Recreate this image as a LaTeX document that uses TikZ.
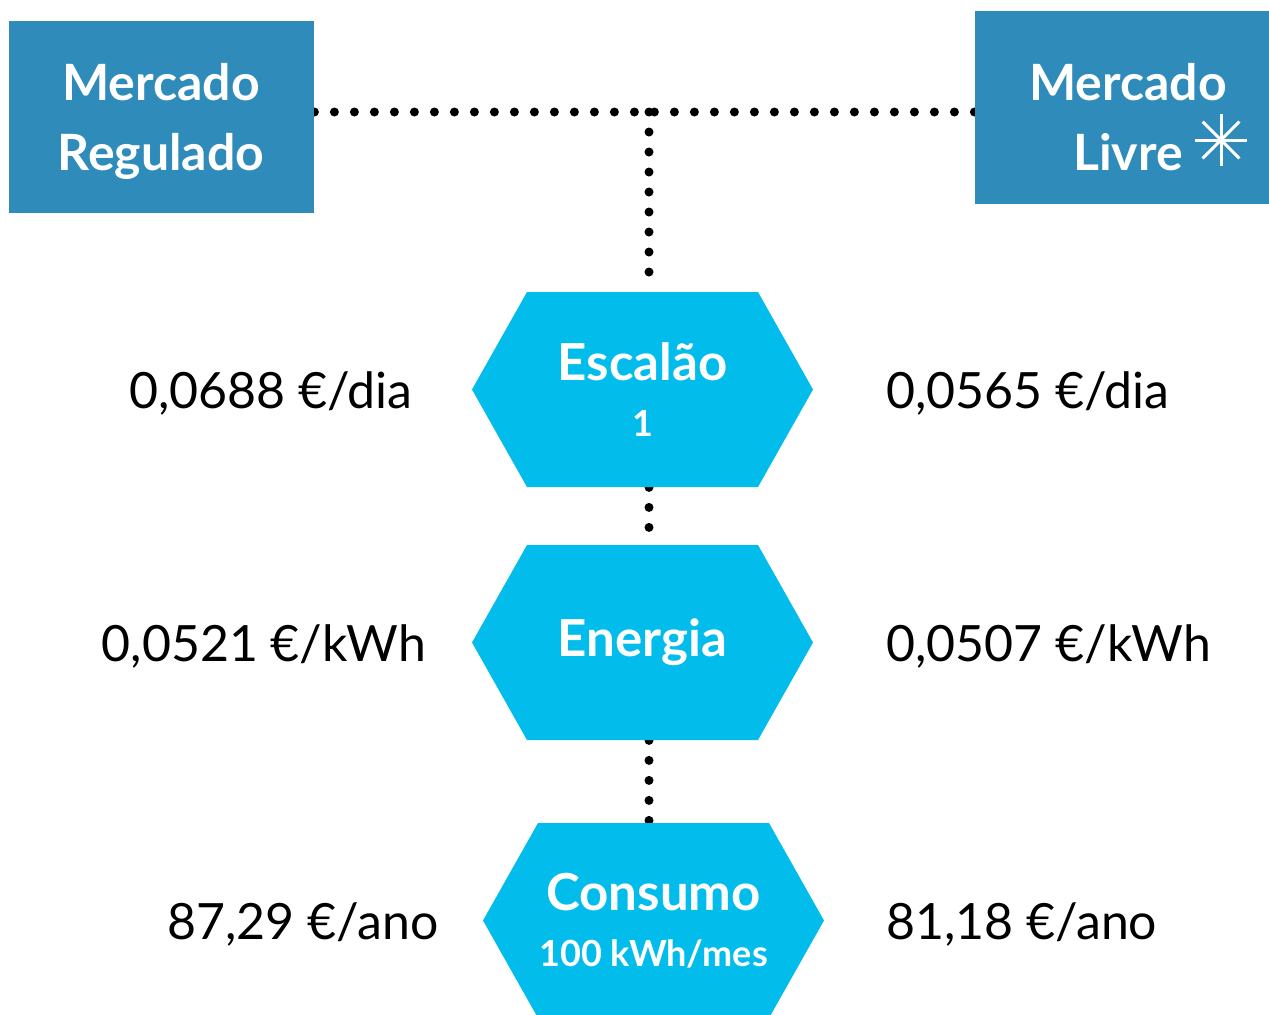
\documentclass[tikz,border=0pt]{standalone}
\usepackage{fontspec}
\setmainfont{Lato}
\usetikzlibrary{backgrounds}
\definecolor{mktblue}{RGB}{46,139,186}
\definecolor{hexcyan}{RGB}{2,189,236}
\tikzset{
    dotline/.style={line width=4.5pt, dash pattern=on 0pt off 10pt, line cap=round}, % round dots
    mktbox/.style={fill=mktblue, inner sep=0pt},
    mkttext/.style={text=white, inner sep=0pt, align=center,
        font=\fontsize{25}{35}\selectfont\bfseries},
    hexbox/.style={minimum width=170.5pt, minimum height=97.5pt, inner sep=0pt,
        text=white, align=center, font=\fontsize{25.5}{28}\selectfont\bfseries,
        path picture={
            \fill[hexcyan] (path picture bounding box.west)
                -- ([xshift=27.5pt]path picture bounding box.north west)
                -- ([xshift=-27.5pt]path picture bounding box.north east)
                -- (path picture bounding box.east)
                -- ([xshift=-27.5pt]path picture bounding box.south east)
                -- ([xshift=27.5pt]path picture bounding box.south west) -- cycle;
        }},
    price/.style={font=\fontsize{25}{30}\selectfont, inner sep=0pt, anchor=base},
}

\begin{document}
\begin{tikzpicture}[x=0.5pt, y=-0.5pt]
    \useasboundingbox (0,0) rectangle (1269,1014);
    % the two markets
    \node[mktbox, minimum width=152.5pt, minimum height=96pt] (reg) at (161.5,117) {};
    \node[mkttext] (regtxt) at (161,121) {Mercado\\Regulado};
    \node[mktbox, minimum width=147pt, minimum height=96.5pt] (livre) at (1122,107.5) {};
    \node[mkttext] (livretxt) at (1128,117) {Mercado\\Livre};
    \foreach \a in {0,45,90,135}
        \draw[white, line width=1.5pt] (1221,140) +(\a:26) -- +(\a+180:26);
    % hexagons
    \node[hexbox] (esc) at (642.5,389.5) {Escalão\\{\fontsize{18}{20}\selectfont 1}};
    \node[hexbox] (ene) at (642.5,642.5) {\raisebox{-2pt}{Energia}};
    \node[hexbox] (cons) at (653.5,920.5) {Consumo\\{\fontsize{18}{20}\selectfont 100 kWh/mes}};
    % dotted links
    \coordinate (junc) at (649,112);
    \begin{scope}[on background layer]
        \draw[dotline] (reg.east |- junc) -- (livre.west |- junc);
        \draw[dotline] (junc) -- (junc |- esc.north);
        \draw[dotline] (junc |- esc.south) -- (junc |- ene.north);
        \draw[dotline] (junc |- ene.south) -- (junc |- cons.north);
    \end{scope}
    % prices
    \node[price] (regdia) at (271,408) {0,0688 €/dia};
    \node[price] (regkwh) at (264,661) {0,0521 €/kWh};
    \node[price] (regano) at (303,939) {87,29 €/ano};
    \node[price, anchor=base west] (livdia) at (886,408) {0,0565 €/dia};
    \node[price, anchor=base west] (livkwh) at (886,661) {0,0507 €/kWh};
    \node[price, anchor=base west] (livano) at (886,939) {81,18 €/ano};
\end{tikzpicture}
\end{document}
